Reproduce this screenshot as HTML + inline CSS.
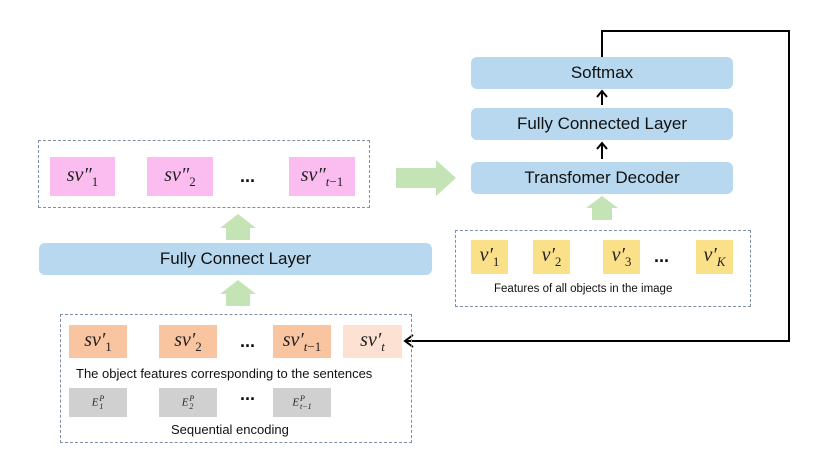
<!DOCTYPE html>
<html><head><meta charset="utf-8"><style>
body{margin:0;width:830px;height:467px;background:#fff;position:relative;overflow:hidden;font-family:"Liberation Sans",sans-serif;}
.a{position:absolute;box-sizing:border-box;display:flex;align-items:center;justify-content:center;}
.blue{background:#b7d8ef;border-radius:6px;font-size:17px;color:#111;}
.dash{position:absolute;border:1.3px dashed #7d8fa3;box-sizing:border-box;}
.m{font-family:"Liberation Serif",serif;font-style:italic;font-size:20px;color:#222;}
.sb{font-size:13px;vertical-align:-5px;font-style:normal;}
.sbi{font-size:13px;vertical-align:-5px;}
.st{display:inline-block;vertical-align:middle;line-height:8px;font-size:8px;margin-left:1px;}
.pk{background:#fbbdf0}.or{background:#f9c4a0}.lo{background:#fde2d3}.gr{background:#d0d0d0}.ye{background:#fbe08a}
.t{position:absolute;font-size:13px;color:#111;white-space:nowrap;}
.d{position:absolute;font-size:18px;font-weight:bold;color:#111;}
</style></head><body>
<svg style="position:absolute;left:0;top:0" width="830" height="467">
<g fill="#c5e4b6">
<polygon points="226,240 226,228 220,228 238,214 256,228 250,228 250,240"/>
<polygon points="226,306 226,294 220,294 238,280 256,294 250,294 250,306"/>
<polygon points="592,220 592,208 586,208 602,196 618,208 612,208 612,220"/>
<polygon points="396,168 436,168 436,160 456,178 436,196 436,188 396,188"/>
</g>
<g stroke="#000" stroke-width="2" fill="none">
<polyline points="602,57 602,31 789,31 789,341 405,341"/>
<polyline points="413,335 405,341 413,347"/>
<line x1="602" y1="105" x2="602" y2="91"/><polyline points="597,97 602,91 607,97"/>
<line x1="602" y1="159" x2="602" y2="143"/><polyline points="597,149 602,143 607,149"/>
</g>
</svg>
<div class="a blue" style="left:471px;top:57px;width:262px;height:32px">Softmax</div>
<div class="a blue" style="left:471px;top:108px;width:262px;height:32px">Fully Connected Layer</div>
<div class="a blue" style="left:471px;top:162px;width:262px;height:32px">Transfomer Decoder</div>
<div class="dash" style="left:455px;top:230px;width:296px;height:77px"></div>
<div class="a ye m" style="left:471px;top:240px;width:37px;height:34px"><span>v′<span class="sb">1</span></span></div>
<div class="a ye m" style="left:533px;top:240px;width:37px;height:34px"><span>v′<span class="sb">2</span></span></div>
<div class="a ye m" style="left:603px;top:240px;width:37px;height:34px"><span>v′<span class="sb">3</span></span></div>
<div class="d" style="left:654px;top:246px">...</div>
<div class="a ye m" style="left:696px;top:240px;width:37px;height:34px"><span>v′<span class="sbi">K</span></span></div>
<div class="t" style="left:494px;top:283px;font-size:11.5px">Features of all objects in the image</div>
<div class="dash" style="left:38px;top:140px;width:332px;height:68px"></div>
<div class="a pk m" style="left:50px;top:157px;width:65px;height:39px"><span>sv″<span class="sb">1</span></span></div>
<div class="a pk m" style="left:147px;top:157px;width:66px;height:39px"><span>sv″<span class="sb">2</span></span></div>
<div class="d" style="left:240px;top:166px">...</div>
<div class="a pk m" style="left:289px;top:157px;width:66px;height:39px"><span>sv″<span class="sbi">t</span><span class="sb">−1</span></span></div>
<div class="a blue" style="left:39px;top:243px;width:393px;height:32px">Fully Connect Layer</div>
<div class="dash" style="left:60px;top:314px;width:352px;height:129px"></div>
<div class="a or m" style="left:69px;top:325px;width:58px;height:33px"><span>sv′<span class="sb">1</span></span></div>
<div class="a or m" style="left:159px;top:325px;width:58px;height:33px"><span>sv′<span class="sb">2</span></span></div>
<div class="d" style="left:240px;top:331px">...</div>
<div class="a or m" style="left:273px;top:325px;width:58px;height:33px"><span>sv′<span class="sbi">t</span><span class="sb">−1</span></span></div>
<div class="a lo m" style="left:343px;top:325px;width:59px;height:33px"><span>sv′<span class="sbi">t</span></span></div>
<div class="t" style="left:76px;top:366px">The object features corresponding to the sentences</div>
<div class="a gr m" style="left:69px;top:388px;width:58px;height:29px;font-size:11px"><span>E<span class="st">P<br>1</span></span></div>
<div class="a gr m" style="left:159px;top:388px;width:58px;height:29px;font-size:11px"><span>E<span class="st">P<br>2</span></span></div>
<div class="d" style="left:240px;top:384px">...</div>
<div class="a gr m" style="left:273px;top:388px;width:58px;height:29px;font-size:11px"><span>E<span class="st">P<br>t−1</span></span></div>
<div class="t" style="left:171px;top:422px">Sequential encoding</div>
</body></html>
